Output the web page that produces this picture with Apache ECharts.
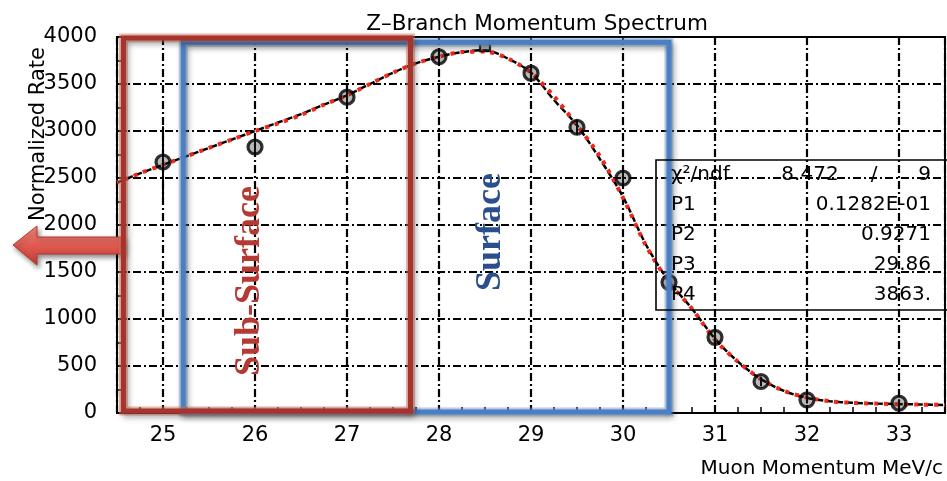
<!DOCTYPE html>
<html><head><meta charset="utf-8">
<script src="https://cdn.jsdelivr.net/npm/echarts@6/dist/echarts.min.js"></script>
<style>html,body{margin:0;padding:0;background:#fff}#c{width:947px;height:481px}</style>
</head><body><div id="c"></div>
<script>
// ---------- data ----------
const titleText = 'Z\u2013Branch Momentum Spectrum';
const xAxisName = 'Muon Momentum MeV/c';
const yAxisName = 'Normalized Rate';

const curveX = [24.5,24.75,25,25.25,25.5,25.75,26,26.25,26.5,26.75,27,27.25,27.5,27.75,28,28.25,28.5,28.75,29,29.25,29.5,29.75,30,30.25,30.5,30.75,31,31.25,31.5,31.75,32,32.25,32.5,32.75,33,33.25,33.5];
const fitY   = [2450,2550,2640,2730,2820,2910,3000,3080,3170,3280,3380,3500,3620,3720,3790,3840,3845,3770,3620,3370,3060,2730,2290,1780,1390,1110,780,545,360,235,165,125,108,100,93,89,86];
const lineY  = [2450,2550,2640,2730,2820,2910,3000,3090,3180,3280,3380,3500,3620,3720,3790,3840,3860,3770,3620,3330,3060,2700,2300,1790,1400,1110,790,545,360,235,160,125,108,100,95,90,86];

// measured points with error bars
const ptX   = [25,26,27,28,29,29.5,30,30.5,31,31.5,32,33];
const ptY   = [2670,2830,3360,3790,3615,3040,2500,1390,805,335,140,105];
const ptErr = [380,90,90,80,80,80,90,60,60,50,40,40];
const peakX = [28.5];
const peakY = [3890];

// highlighted momentum ranges [xFrom, xTo, yFrom, yTo]
const subSurfaceRange = [24.57, 27.69, 20, 3990];
const surfaceRange    = [25.22, 30.50, 10, 3945];

// fit statistics box
const statNames  = ['\u03C7\u00B2/ndf','P1','P2','P3','P4'];
const statValues = ['9','0.1282E-01','0.9271','29.86','3863.'];
const chiValue = '8.472';

// ---------- chart ----------
const FONT = 'DejaVu Sans';
const chart = echarts.init(document.getElementById('c'), null, {renderer:'canvas'});
const gridLine = {show:true, lineStyle:{color:'#000', width:2.2, type:[8,3,2,3]}};

function boxRender(stroke, glow){
  return function(params, api){
    const p0 = api.coord([api.value(0), api.value(3)]);
    const p1 = api.coord([api.value(1), api.value(2)]);
    const shape = {x:p0[0], y:p0[1], width:p1[0]-p0[0], height:p1[1]-p0[1]};
    return {type:'group', children:[
      {type:'rect', shape:shape, style:{fill:'none', stroke:glow, lineWidth:9}},
      {type:'rect', shape:shape, style:{fill:'none', stroke:stroke, lineWidth:5, shadowBlur:6, shadowOffsetX:2, shadowOffsetY:3, shadowColor:'rgba(0,0,0,0.45)'}}
    ]};
  };
}

const statGraphics = [];
const rowY0 = 175, rowStep = 30;
statNames.forEach((n,i)=>{
  statGraphics.push({type:'text', x:671, y:rowY0+i*rowStep, z:50, style:{text:n, font:'20px "DejaVu Sans"', fill:'#000', align:'left', verticalAlign:'middle'}});
  statGraphics.push({type:'text', x:931, y:rowY0+i*rowStep, z:50, style:{text:statValues[i], font:'20px "DejaVu Sans"', fill:'#000', align:'right', verticalAlign:'middle'}});
});
statGraphics.push({type:'text', x:810, y:rowY0, z:50, style:{text:chiValue, font:'20px "DejaVu Sans"', fill:'#000', align:'center', verticalAlign:'middle'}});
statGraphics.push({type:'text', x:874, y:rowY0, z:50, style:{text:'/', font:'20px "DejaVu Sans"', fill:'#000', align:'center', verticalAlign:'middle'}});

const option = {
  animation:false,
  backgroundColor:'#fff',
  title:{text:titleText, left:532, top:8, textAlign:'center',
    textStyle:{fontFamily:FONT, fontSize:21.5, fontWeight:'normal', color:'#000'}},
  grid:{left:117, right:2, top:37, bottom:68, show:true, borderColor:'#000', borderWidth:2},
  xAxis:[
    {type:'value', min:24.5, max:33.5, splitNumber:9, position:'bottom',
     axisLine:{lineStyle:{color:'#000', width:2}}, axisTick:{show:false},
     axisLabel:{showMinLabel:false, showMaxLabel:false, color:'#000', fontFamily:FONT, fontSize:21, margin:12},
     splitLine:gridLine,
     name:xAxisName, nameLocation:'end', nameGap:-2,
     nameTextStyle:{fontFamily:FONT, fontSize:20, color:'#000', align:'right', verticalAlign:'top', padding:[46,0,0,0]}},
    {type:'value', min:24.5, max:33.5, interval:0.25, position:'bottom',
     axisLine:{show:false}, axisLabel:{show:false}, splitLine:{show:false},
     axisTick:{show:true, inside:true, length:6, lineStyle:{color:'#000', width:1.5}}}
  ],
  yAxis:{type:'value', min:0, max:4000, interval:500,
    axisLine:{show:true, lineStyle:{color:'#000', width:2}},
    axisTick:{show:true, inside:true, length:10, lineStyle:{color:'#000', width:1.5}},
    minorTick:{show:true, splitNumber:2, length:6, lineStyle:{color:'#000', width:1.5}},
    axisLabel:{color:'#000', fontFamily:FONT, fontSize:21, margin:20, formatter:function(v){return String(v);}},
    splitLine:gridLine},
  series:[
    {type:'line', name:'data', data:curveX.map((x,i)=>[x,lineY[i]]), smooth:0.3, showSymbol:false, z:3,
     lineStyle:{color:'#000', width:2.5, type:[7,3]}},
    {type:'line', name:'fit', data:curveX.map((x,i)=>[x,fitY[i]]), smooth:0.3, showSymbol:false, z:4,
     lineStyle:{color:'#f0281a', width:4, type:[4,6], dashOffset:2}},
    {type:'custom', name:'errors', z:5, data:ptX.map((x,i)=>[x,ptY[i],ptErr[i]]),
     renderItem:function(params, api){
       const x=api.value(0), y=api.value(1), e=api.value(2);
       const a=api.coord([x,y+e]), b=api.coord([x,y-e]);
       return {type:'line', shape:{x1:a[0],y1:a[1],x2:b[0],y2:b[1]}, style:{stroke:'#000', lineWidth:2}};
     }},
    {type:'scatter', name:'points', z:6, data:ptX.map((x,i)=>[x,ptY[i]]), symbol:'circle', symbolSize:14,
     itemStyle:{color:'rgba(40,40,40,0.4)', borderColor:'#000', borderWidth:3.2}},
    {type:'scatter', name:'peak', z:6, data:peakX.map((x,i)=>[x,peakY[i]]), symbol:'rect', symbolSize:[10,8],
     itemStyle:{color:'rgba(80,80,80,0.5)', borderColor:'#000', borderWidth:2}},
    {type:'custom', name:'surface', z:8, data:[surfaceRange], renderItem:boxRender('#4a7fc4','rgba(120,165,220,0.45)')},
    {type:'custom', name:'subsurface', z:9, data:[subSurfaceRange], renderItem:boxRender('#a8332c','rgba(225,130,105,0.5)')}
  ],
  graphic:[
    {type:'text', x:39, y:134, rotation:Math.PI/2, z:50,
     style:{text:yAxisName, font:'21px "DejaVu Sans"', fill:'#000', align:'center', verticalAlign:'middle'}},
    {type:'polygon', z:1,
     shape:{points:[[13,245],[37,226],[37,237],[124,237],[124,254],[37,254],[37,265]]},
     style:{fill:new echarts.graphic.LinearGradient(0,0,0,1,[{offset:0,color:'#f08a80'},{offset:0.5,color:'#df5a50'},{offset:1,color:'#c23d35'}]),
            stroke:'#b5372f', lineWidth:1, shadowBlur:5, shadowOffsetX:2, shadowOffsetY:3, shadowColor:'rgba(0,0,0,0.45)'}},
    {type:'text', x:250, y:281, rotation:Math.PI/2, z:60,
     style:{text:'Sub-Surface', font:'bold 36px "Liberation Serif"', fill:'#b53a33', align:'center', verticalAlign:'middle',
            shadowBlur:4, shadowOffsetX:2, shadowOffsetY:2, shadowColor:'rgba(0,0,0,0.4)'}},
    {type:'text', x:491, y:232, rotation:Math.PI/2, z:60,
     style:{text:'Surface', font:'bold 36px "Liberation Serif"', fill:'#2b4f8e', align:'center', verticalAlign:'middle',
            shadowBlur:4, shadowOffsetX:2, shadowOffsetY:2, shadowColor:'rgba(0,0,0,0.4)'}},
    {type:'rect', z:50, shape:{x:656, y:160, width:300, height:150}, style:{fill:'none', stroke:'#000', lineWidth:1.6}}
  ].concat(statGraphics)
};
chart.setOption(option);
</script>
</body></html>
